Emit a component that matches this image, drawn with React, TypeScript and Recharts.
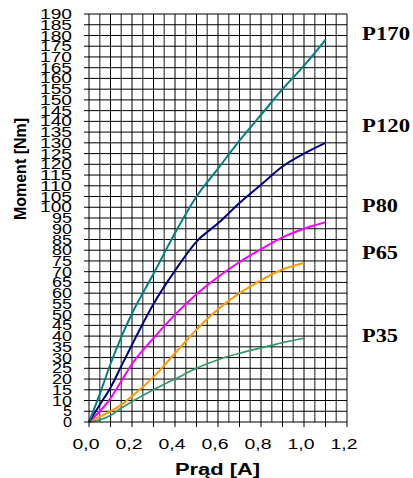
import React from 'react';
import { LineChart, Line, XAxis, YAxis, ReferenceLine } from 'recharts';

const current = [0, 0.05, 0.1, 0.15, 0.2, 0.3, 0.4, 0.5, 0.6, 0.7, 0.8, 0.9, 1.0, 1.1];
const p170 = [0, 13, 27, 39.5, 50.5, 69, 88, 105, 118, 131, 143, 155, 166, 178];
const p120 = [0, 8, 16, 26, 36, 55, 70.5, 84, 92.5, 102, 110.5, 119, 125, 130];
const p80 = [0, 5, 11, 19, 27, 39, 50, 59.5, 67.5, 74.5, 80.5, 86, 90, 93];
const p65 = [0, 2.5, 5, 8, 12, 21, 32, 43, 52.5, 60, 66, 71, 74, null];
const p35 = [0, 1, 3, 6.5, 9.5, 15, 20, 25, 29, 32, 34.5, 37, 39, null];

const xTicks = [0, 0.1, 0.2, 0.3, 0.4, 0.5, 0.6, 0.7, 0.8, 0.9, 1.0, 1.1, 1.2];
const xMinorGrid = [0.05, 0.15, 0.25, 0.35, 0.45, 0.55, 0.65, 0.75, 0.85, 0.95, 1.05, 1.15];
const xMajorGrid = [0.1, 0.2, 0.3, 0.4, 0.5, 0.6, 0.7, 0.8, 0.9, 1.0, 1.1, 1.2];
const yTicks = Array.from({ length: 39 }, (_, i) => i * 5);
const yGrid = yTicks.slice(1);

const seriesLabels = [
  { name: 'P170', baseline: 40, width: 48 },
  { name: 'P120', baseline: 132, width: 48 },
  { name: 'P80', baseline: 212, width: 36 },
  { name: 'P65', baseline: 259, width: 36 },
  { name: 'P35', baseline: 342, width: 36 },
];

const data = current.map((c, i) => ({
  x: c,
  p170: p170[i],
  p120: p120[i],
  p80: p80[i],
  p65: p65[i],
  p35: p35[i],
}));

const SANS = 'Liberation Sans, Arial, sans-serif';

const YTick = (props: any) => {
  const { x, y, payload } = props;
  const s = String(payload.value);
  const len = s.length === 1 ? 9 : s.length === 2 ? 20 : 32;
  return (
    <text x={x} y={y} dy="0.36em" textAnchor="end" fontFamily={SANS} fontSize={14} fill="#000"
      textLength={len} lengthAdjust="spacingAndGlyphs">{s}</text>
  );
};

const XTick = (props: any) => {
  const { x, y, payload } = props;
  const v = Number(payload.value);
  const k = Math.round(v * 10);
  if (k % 2 !== 0) return <g />;
  const s = v.toFixed(1).replace('.', ',');
  return (
    <text x={x - 3} y={y} dy="0.71em" textAnchor="middle" fontFamily={SANS} fontSize={14} fill="#000"
      textLength={27} lengthAdjust="spacingAndGlyphs">{s}</text>
  );
};

export default function App() {
  return (
    <div style={{ position: 'absolute', left: 0, top: 0, width: 413, height: 478, background: '#fff' }}>
      <LineChart width={413} height={478} data={data} margin={{ top: 14, right: 66, left: 0, bottom: 0 }}>
        {xMinorGrid.map((v) => (
          <ReferenceLine key={'xm' + v} x={v} stroke="#666" strokeWidth={1.5} />
        ))}
        {xMajorGrid.map((v) => (
          <ReferenceLine key={'xM' + v} x={v} stroke="#000" strokeWidth={1} />
        ))}
        {yGrid.map((v) => (
          <ReferenceLine key={'y' + v} y={v} stroke="#000" strokeWidth={1} />
        ))}
        <XAxis dataKey="x" type="number" domain={[0, 1.2]} ticks={xTicks} interval={0}
          height={56} tickSize={5} tickMargin={12} tick={<XTick />}
          axisLine={{ stroke: '#000' }} tickLine={{ stroke: '#000' }} />
        <YAxis type="number" domain={[0, 190]} ticks={yTicks} interval={0}
          width={89} tickSize={5} tickMargin={12} tick={<YTick />}
          axisLine={{ stroke: '#000' }} tickLine={{ stroke: '#000' }} />
        <Line dataKey="p35" type="monotone" stroke="#339966" strokeWidth={1.7} dot={false} isAnimationActive={false} />
        <Line dataKey="p65" type="monotone" stroke="#FF9900" strokeWidth={2} dot={false} isAnimationActive={false} />
        <Line dataKey="p80" type="monotone" stroke="#FF00FF" strokeWidth={2} dot={false} isAnimationActive={false} />
        <Line dataKey="p120" type="monotone" stroke="#000080" strokeWidth={2} dot={false} isAnimationActive={false} />
        <Line dataKey="p170" type="monotone" stroke="#008080" strokeWidth={2} dot={false} isAnimationActive={false} />
      </LineChart>
      <svg width={413} height={478} style={{ position: 'absolute', left: 0, top: 0, pointerEvents: 'none' }}>
        <text x={217.5} y={475} textAnchor="middle" fontFamily={SANS} fontWeight="bold" fontSize={16}
          textLength={85} lengthAdjust="spacingAndGlyphs">Prąd [A]</text>
        <text transform="translate(26,169) rotate(-90)" textAnchor="middle" fontFamily={SANS}
          fontWeight="bold" fontSize={16}>Moment [Nm]</text>
        {seriesLabels.map((l) => (
          <text key={l.name} x={362} y={l.baseline} fontFamily="Liberation Serif, Times New Roman, serif"
            fontWeight="bold" fontSize={18} textLength={l.width} lengthAdjust="spacingAndGlyphs">{l.name}</text>
        ))}
      </svg>
    </div>
  );
}
